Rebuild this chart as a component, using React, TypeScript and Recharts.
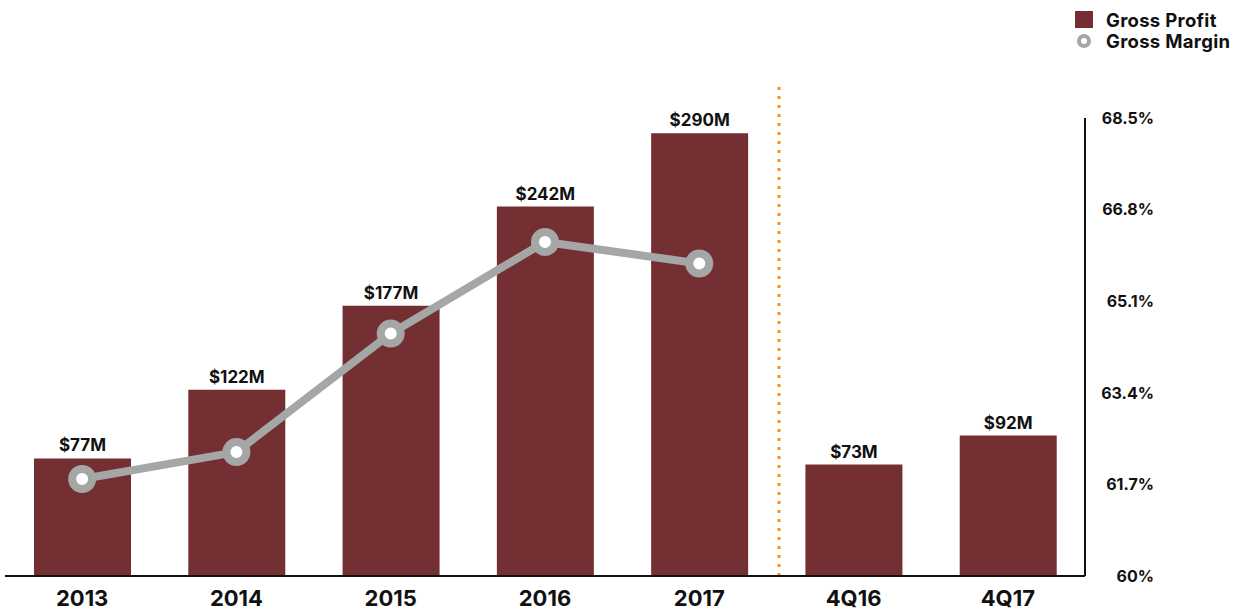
import {
  Bar,
  ComposedChart,
  LabelList,
  Line,
  ReferenceLine,
  XAxis,
  YAxis,
} from "recharts";

const categories = ["2013", "2014", "2015", "2016", "2017", "4Q16", "4Q17"];
const grossProfit = [77, 122, 177, 242, 290, 73, 92];
const grossMargin: (number | null)[] = [61.8, 62.3, 64.5, 66.2, 65.8, null, null];
const marginTicks = [60, 61.7, 63.4, 65.1, 66.8, 68.5];

const BAR = "#732F32";
const GRAY = "#A4A7A6";
const ORANGE = "#F7941D";
const INK = "#111111";
const FONT = "Inter, 'Noto Sans', sans-serif";

const data = categories.map((name, i) => ({
  name,
  profit: grossProfit[i],
  margin: grossMargin[i],
}));

const XTick = ({ x, y, payload }: any) => (
  <text
    x={x}
    y={y}
    dy={28}
    textAnchor="middle"
    fill={INK}
    fontFamily={FONT}
    fontSize={22}
    fontWeight={700}
  >
    {payload.value}
  </text>
);

const RightTick = ({ x, y, payload }: any) => (
  <text
    x={x + 69}
    y={y}
    dy="0.36em"
    textAnchor="end"
    fill={INK}
    fontFamily={FONT}
    fontSize={16}
    fontWeight={700}
  >
    {`${payload.value}%`}
  </text>
);

function ChartLegend() {
  const row = {
    display: "flex",
    alignItems: "center",
    height: 21,
    fontSize: 18.5,
    fontWeight: 700,
    color: INK,
    whiteSpace: "nowrap",
    letterSpacing: 0.3,
  } as const;
  return (
    <div style={{ position: "absolute", left: 1075, top: 9, fontFamily: FONT, lineHeight: "18px" }}>
      <div style={row}>
        <span style={{ width: 18, height: 17, background: BAR, marginRight: 13, display: "inline-block" }} />
        Gross Profit
      </div>
      <div style={row}>
        <svg width={18} height={16} style={{ marginRight: 13 }}>
          <circle cx={9} cy={8} r={5} fill="#fff" stroke={GRAY} strokeWidth={4} />
        </svg>
        Gross Margin
      </div>
    </div>
  );
}

export default function App() {
  return (
    <div style={{ position: "absolute", left: 0, top: 0, width: 1244, height: 614, background: "#fff" }}>
      <ComposedChart
        width={1244}
        height={614}
        data={data}
        margin={{ top: 118, right: 79, bottom: 0, left: 5 }}
      >
        <XAxis
          dataKey="name"
          xAxisId="cat"
          height={38}
          axisLine={{ stroke: INK, strokeWidth: 2 }}
          tickLine={false}
          tickSize={0}
          tick={<XTick />}
          interval={0}
        />
        <XAxis xAxisId="num" type="number" domain={[0, 6]} allowDataOverflow hide />
        <YAxis yAxisId="left" domain={[0, 300]} hide />
        <YAxis
          yAxisId="right"
          orientation="right"
          domain={[60, 68.5]}
          ticks={marginTicks}
          width={80}
          axisLine={{ stroke: INK, strokeWidth: 2 }}
          tickLine={false}
          tickSize={0}
          tickMargin={0}
          tick={<RightTick />}
          interval={0}
        />
        <ReferenceLine
          xAxisId="num"
          yAxisId="left"
          segment={[
            { x: 4.3, y: 0 },
            { x: 4.3, y: 321 },
          ]}
          stroke={ORANGE}
          strokeWidth={3}
          strokeDasharray="3 6"
          ifOverflow="visible"
        />
        <Bar
          xAxisId="cat"
          yAxisId="left"
          dataKey="profit"
          fill={BAR}
          barSize={97}
          isAnimationActive={false}
        >
          <LabelList
            dataKey="profit"
            position="top"
            offset={7}
            formatter={(v: any) => `$${v}M`}
            fill={INK}
            fontFamily={FONT}
            fontSize={17}
            fontWeight={700}
          />
        </Bar>
        <Line
          xAxisId="cat"
          yAxisId="right"
          dataKey="margin"
          stroke={GRAY}
          strokeWidth={8}
          dot={{ r: 10, fill: "#fff", stroke: GRAY, strokeWidth: 8 }}
          activeDot={false}
          isAnimationActive={false}
        />
      </ComposedChart>
      <ChartLegend />
    </div>
  );
}
